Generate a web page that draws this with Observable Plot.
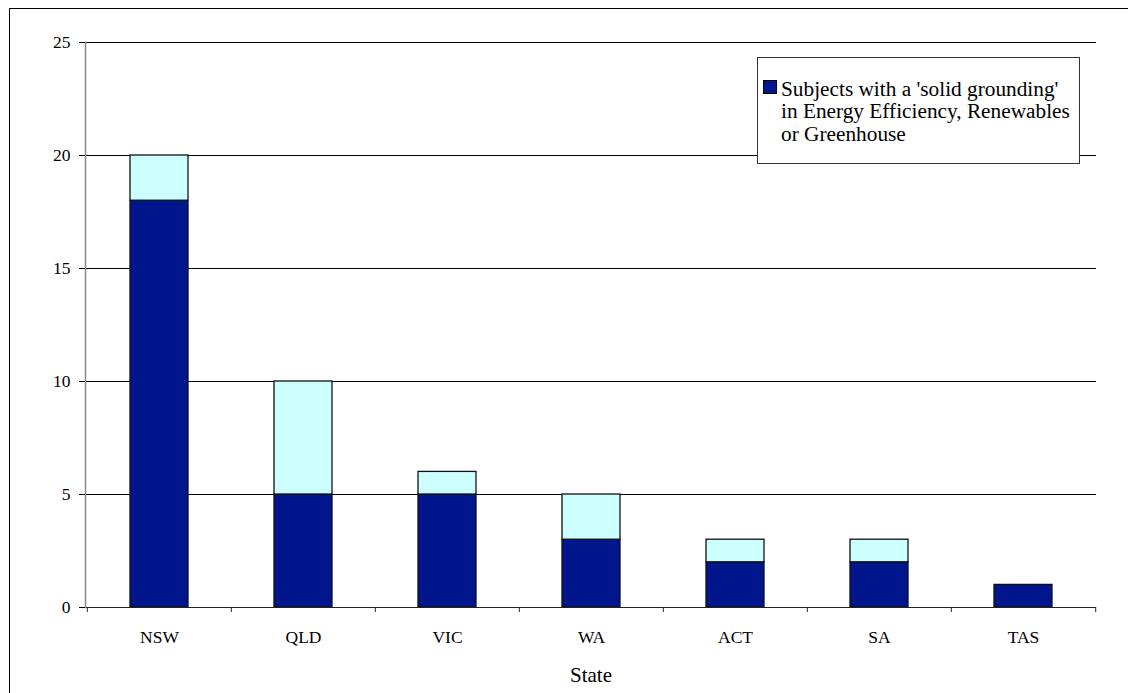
<!DOCTYPE html>
<html>
<head>
<meta charset="utf-8">
<script src="https://cdn.jsdelivr.net/npm/d3@7"></script>
<script src="https://cdn.jsdelivr.net/npm/@observablehq/plot@0.6"></script>
<style>
  html, body { margin: 0; padding: 0; background: #fff; overflow: hidden; }
  #wrap { position: relative; width: 1128px; height: 693px; overflow: hidden; font-family: "Liberation Serif", serif; }
  #frame { position: absolute; left: 9px; top: 8px; width: 2000px; height: 2000px; border-top: 1px solid #000; border-left: 1px solid #000; pointer-events: none; z-index: 3; }
  #legend { position: absolute; left: 757px; top: 57px; width: 323px; height: 107px; box-sizing: border-box; border: 1px solid #333; background: #fff; z-index: 2; }
  #legend .sw { position: absolute; left: 5px; top: 22px; width: 14px; height: 14px; box-sizing: border-box; border: 1px solid #000; }
  #legend .tx { position: absolute; left: 23px; top: 19.6px; font-size: 21.3px; line-height: 22.5px; color: #000; white-space: nowrap; font-family: "Liberation Serif", serif; }
  #chart svg { background: transparent; }
</style>
</head>
<body>
<div id="wrap">
  <div id="chart"></div>
  <div id="frame"></div>
  <div id="legend"><div class="sw"></div><div class="tx"></div></div>
</div>
<script>
const states = ["NSW", "QLD", "VIC", "WA", "ACT", "SA", "TAS"];
const solidValues = [18, 5, 5, 3, 2, 2, 1];
const otherValues = [2, 5, 1, 2, 1, 1, 0];
const seriesNames = ["Subjects with a 'solid grounding' in Energy Efficiency, Renewables or Greenhouse", "Other subjects"];
const legendLines = ["Subjects with a 'solid grounding'", "in Energy Efficiency, Renewables", "or Greenhouse"];
const seriesColors = ["#00168C", "#CCFFFF"];
const yTicks = [0, 5, 10, 15, 20, 25];
const xTitle = "State";

const rows = [];
states.forEach((s, i) => {
  rows.push({state: s, series: seriesNames[0], value: solidValues[i]});
  if (otherValues[i] > 0) rows.push({state: s, series: seriesNames[1], value: otherValues[i]});
});

const W = 1128, H = 693;
const mL = 85, mR = 32, mT = 42, mB = 86;
const step = (W - mL - mR) / states.length;
const plotH = H - mT - mB;
const serif = "Liberation Serif";

const chart = Plot.plot({
  width: W,
  height: H,
  marginLeft: mL,
  marginRight: mR,
  marginTop: mT,
  marginBottom: mB,
  style: {fontFamily: serif, fontSize: "17.5px", color: "#000", background: "transparent"},
  x: {domain: states, paddingInner: 0.6, paddingOuter: 0.3, label: null},
  y: {domain: [0, 25], label: null},
  color: {domain: seriesNames, range: seriesColors},
  marks: [
    Plot.gridY(yTicks, {stroke: "#000", strokeOpacity: 1}),
    Plot.barY(rows, {x: "state", y: "value", fill: "series", stroke: "#111", strokeWidth: 1.3}),
    Plot.ruleY([0], {stroke: "#222", strokeWidth: 1.2}),
    Plot.frame({anchor: "left", stroke: "#888", strokeWidth: 1.5}),
    Plot.axisY({ticks: yTicks, tickSize: 6, tickPadding: 9, stroke: "#000", label: null, fontFamily: serif, fontSize: 17.5}),
    Plot.axisX({tickSize: 0, tickPadding: 23, label: null, fontFamily: serif, fontSize: 17.5}),
    Plot.ruleX(states, {x: d => d, dx: -step / 2, insetTop: plotH, insetBottom: -5, stroke: "#222"}),
    Plot.ruleX(states.slice(-1), {x: d => d, dx: step / 2, insetTop: plotH, insetBottom: -5, stroke: "#222"}),
    Plot.text([xTitle], {frameAnchor: "bottom", dy: 68, lineAnchor: "middle", fontSize: 21, fill: "#000", fontFamily: serif})
  ]
});
document.getElementById("chart").appendChild(chart);

const lg = document.getElementById("legend");
lg.querySelector(".sw").style.background = seriesColors[0];
const tx = lg.querySelector(".tx");
legendLines.forEach(line => {
  const d = document.createElement("div");
  d.textContent = line;
  tx.appendChild(d);
});
</script>
</body>
</html>
